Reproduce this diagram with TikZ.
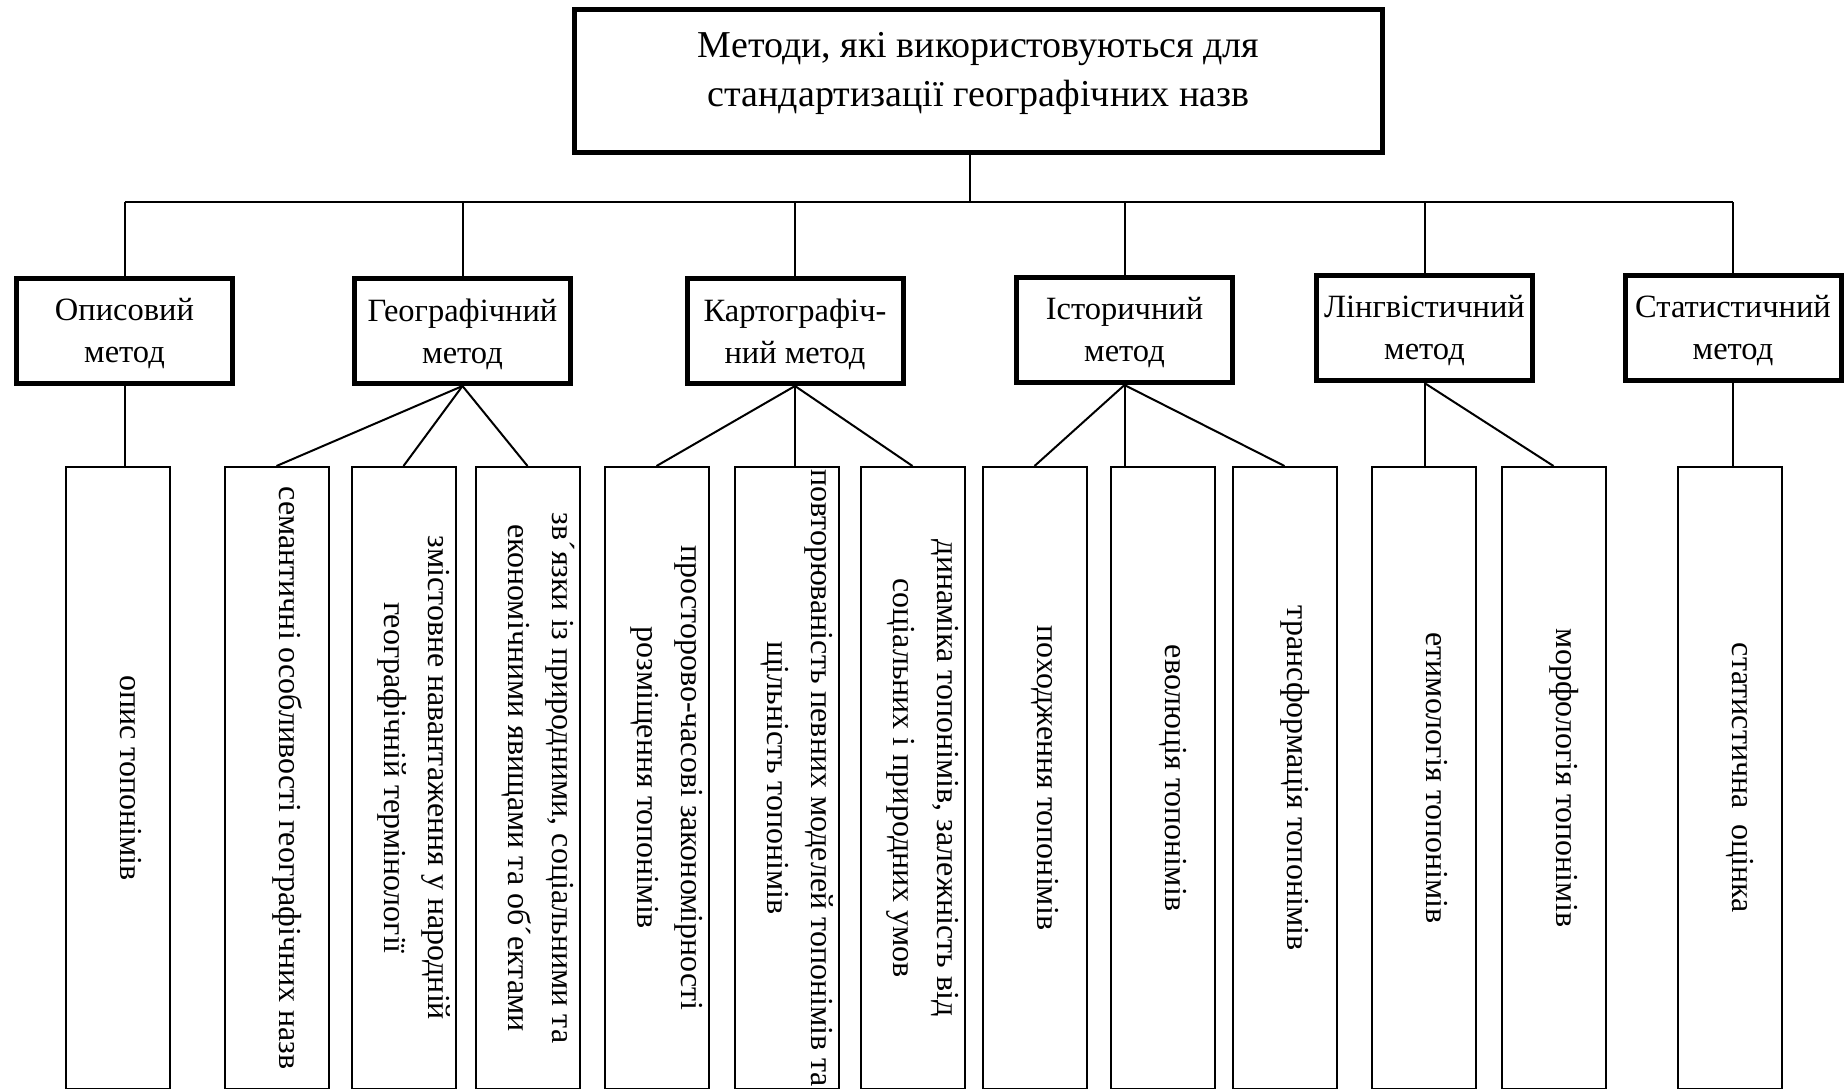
\documentclass[tikz,border=0pt]{standalone}
\usepackage{fontspec}
\setmainfont{Liberation Serif}
\usepackage{graphicx}
\usetikzlibrary{positioning}

% text turned to read from top to bottom
\newcommand{\vtext}[1]{\rotatebox{-90}{\raisebox{12pt}[\height][\depth]{\begin{tabular}{@{}c@{}}#1\end{tabular}}}}

\tikzset{
  topbox/.style={draw, line width=5pt, minimum width=808pt, minimum height=143pt,
    align=center, text depth=24pt, font=\fontsize{38}{49}\selectfont},
  method/.style={draw, line width=5pt, minimum width=216pt, minimum height=105pt,
    inner sep=0pt, align=center, text depth=0.5pt, font=\fontsize{32.5}{42}\selectfont},
  leaf/.style={draw, line width=2pt, minimum width=104pt, minimum height=622pt,
    inner sep=0pt, font=\fontsize{32}{44}\selectfont},
  link/.style={line width=2pt},
  bus/.style={line width=2.5pt}
}

\begin{document}
\begin{tikzpicture}[x={(1pt,0pt)}, y={(0pt,-1pt)}]
  \useasboundingbox (0,0) rectangle (1845,1088);
  \clip (0,0) rectangle (1845,1088);

  % Define nodes
  \node[topbox] (top) at (978.5,81) {Методи, які використовуються для\\стандартизації географічних назв};

  \node[method] (m1) at (124.5,331) {Описовий\\метод};
  \node[method] (m2) at (462.5,331) {Географічний\\метод};
  \node[method] (m3) at (795,331)   {Картографіч-\\ний метод};
  \node[method] (m4) at (1124.5,330) {Історичний\\метод};
  \node[method] (m5) at (1424.5,328) {Лінгвістичний\\метод};
  \node[method] (m6) at (1733,328)  {Статистичний\\метод};

  \node[leaf] (l1) at (117.5,778) {\vtext{опис топонімів}};
  \node[leaf, right=53pt of l1] (l2) {\vtext{семантичні особливості географічних назв}};
  \node[leaf, right=21pt of l2] (l3) {\vtext{змістовне навантаження у народній\\географічній термінології}};
  \node[leaf, right=18pt of l3] (l4) {\vtext{зв´язки із природними, соціальними та\\економічними явищами та об´ектами}};
  \node[leaf, right=23pt of l4] (l5) {\vtext{просторово-часові закономірності\\розміщення топонімів}};
  \node[leaf, right=24pt of l5] (l6) {\vtext{повторюваність певних моделей топонімів та\\щільність топонімів}};
  \node[leaf, right=20pt of l6] (l7) {\vtext{динаміка топонімів, залежність від\\соціальних і природних умов}};
  \node[leaf, right=16pt of l7] (l8) {\vtext{походження топонімів}};
  \node[leaf, right=22pt of l8] (l9) {\vtext{еволюція топонімів}};
  \node[leaf, right=16pt of l9] (l10) {\vtext{трансформація топонімів}};
  \node[leaf, right=33pt of l10] (l11) {\vtext{етимологія топонімів}};
  \node[leaf, right=24pt of l11] (l12) {\vtext{морфологія топонімів}};
  \node[leaf, right=70pt of l12] (l13) {\vtext{статистична\ \ оцінка}};

  \coordinate (trunk) at (970,202);

  % Connect the nodes
  \draw[link] (top.south -| trunk) -- (trunk);
  \draw[bus] (m1.north |- trunk) -- (m6.north |- trunk);
  \foreach \m in {m1,m2,m3,m4,m5,m6}
    \draw[link] (\m.north |- trunk) -- (\m.north);

  \draw[link] (m1.south) -- (m1.south |- l1.north);
  \draw[link] (m2.south) -- (l2.north);
  \draw[link] (m2.south) -- (l3.north);
  \draw[link] (m2.south) -- (l4.north);
  \draw[link] (m3.south) -- (l5.north);
  \draw[link] (m3.south) -- (m3.south |- l6.north);
  \draw[link] (m3.south) -- (l7.north);
  \draw[link] (m4.south) -- (l8.north);
  \draw[link] (m4.south) -- (m4.south |- l9.north);
  \draw[link] (m4.south) -- (l10.north);
  \draw[link] (m5.south) -- (m5.south |- l11.north);
  \draw[link] (m5.south) -- (l12.north);
  \draw[link] (m6.south) -- (m6.south |- l13.north);

\end{tikzpicture}
\end{document}
